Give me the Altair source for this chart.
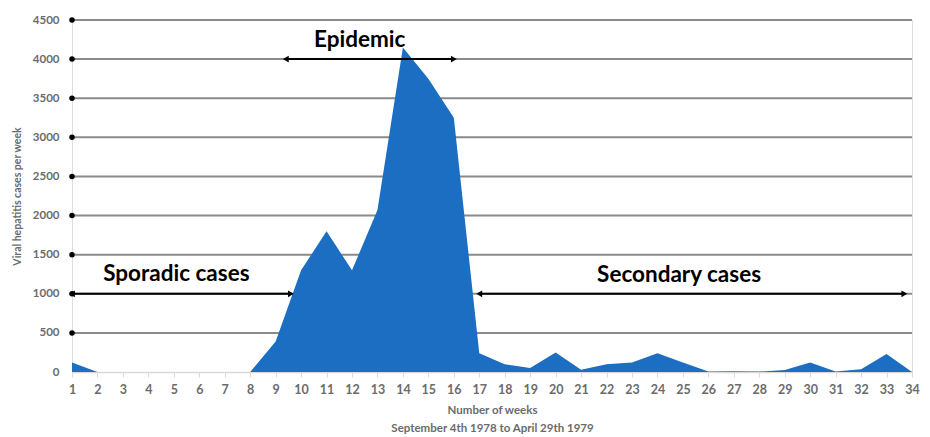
import altair as alt
import pandas as pd

weeks = list(range(1, 35))
cases = [120, 0, 0, 0, 0, 0, 0, 0, 390, 1300, 1800, 1300, 2070, 4150, 3750, 3250,
         240, 100, 50, 250, 30, 100, 120, 240, 120, 5, 10, 5, 25, 120, 5, 35, 230, 0]

y_ticks = [0, 500, 1000, 1500, 2000, 2500, 3000, 3500, 4000, 4500]
grid_values = [500, 1000, 1500, 2000, 2500, 3000, 3500, 4000, 4500]

ann_text = ["Epidemic", "Sporadic cases", "Secondary cases"]
ann_x = [12.3, 5.1, 24.85]
ann_y = [4250, 1250, 1240]

arrow_start = [9.4, 1.0, 17.0]
arrow_end = [16.0, 9.6, 33.7]
arrow_y = [4000, 1000, 1000]

FONT = "Lato"
GREY = "#6b6b6b"
BLUE = "#1B6EC2"

df = pd.DataFrame({"week": weeks, "cases": cases})
grid_df = pd.DataFrame({"v": grid_values, "x1": 1, "x2": 34})
ann_df = pd.DataFrame({"t": ann_text, "x": ann_x, "y": ann_y})
arr_df = pd.DataFrame({"x1": arrow_start, "x2": arrow_end, "y": arrow_y})
heads = pd.DataFrame({
    "x": arrow_start + arrow_end,
    "y": arrow_y + arrow_y,
    "shape": ["triangle-left"] * 3 + ["triangle-right"] * 3,
})

xscale = alt.Scale(domain=[1, 34], nice=False, zero=False)
yscale = alt.Scale(domain=[0, 4500], nice=False)

xaxis = alt.Axis(values=weeks, format="d", title=["Number of weeks", "September 4th 1978 to April 29th 1979"],
                 grid=False, domainColor="#d9d9d9", domainWidth=1.5, tickColor="#d9d9d9",
                 tickSize=5, labelPadding=6, labelColor=GREY, labelFont=FONT, labelFontSize=12.5,
                 labelFontWeight="bold", titleColor=GREY, titleFont=FONT, titleFontSize=11.5,
                 titleFontWeight="bold", titlePadding=9, titleLineHeight=18,
                 labelFlush=False, labelOverlap=False, labelBound=False)
yaxis = alt.Axis(values=y_ticks, format="d", grid=False, domain=False, ticks=False, labelPadding=13,
                 labelColor=GREY, labelFont=FONT, labelFontSize=11.5, labelFontWeight="bold",
                 labelOverlap=False, labelBound=False,
                 title="Viral hepatitis cases per week", titleColor=GREY, titleFont=FONT,
                 titleFontSize=10.5, titleFontWeight="bold", titlePadding=10)


def X(field):
    return alt.X(field, scale=xscale, axis=xaxis)


def Y(field):
    return alt.Y(field, scale=yscale, axis=yaxis)


grid = alt.Chart(grid_df).mark_rule(color="#8a8a8a", strokeWidth=2).encode(
    x=X("x1:Q"), x2="x2:Q", y=Y("v:Q")
)
dots = alt.Chart(grid_df).mark_circle(color="black", size=30, opacity=1).encode(
    x=X("x1:Q"), y=Y("v:Q")
)
area = alt.Chart(df).mark_area(color=BLUE, opacity=1, interpolate="linear").encode(
    x=X("week:Q"), y=Y("cases:Q")
)
arrows = alt.Chart(arr_df).mark_rule(color="black", strokeWidth=2).encode(
    x=X("x1:Q"), x2="x2:Q", y=Y("y:Q")
)
heads_layer = alt.Chart(heads).mark_point(filled=True, color="black", size=45, opacity=1).encode(
    x=X("x:Q"), y=Y("y:Q"),
    shape=alt.Shape("shape:N", scale=None, legend=None)
)
text = alt.Chart(ann_df).mark_text(font=FONT, fontSize=22.5, fontWeight="bold", color="black",
                                   align="center", baseline="middle").encode(
    x=X("x:Q"), y=Y("y:Q"), text="t:N"
)

chart = alt.layer(grid, dots, area, arrows, heads_layer, text).properties(
    width=840, height=352,
    autosize=alt.AutoSizeParams(type="none"),
    padding={"left": 64, "top": 12, "right": 10, "bottom": 64},
).configure_view(stroke=None).configure_axis(labelOverlap=False).configure(background="white")

chart.save("out.html", embed_options={"renderer": "svg", "actions": False})
